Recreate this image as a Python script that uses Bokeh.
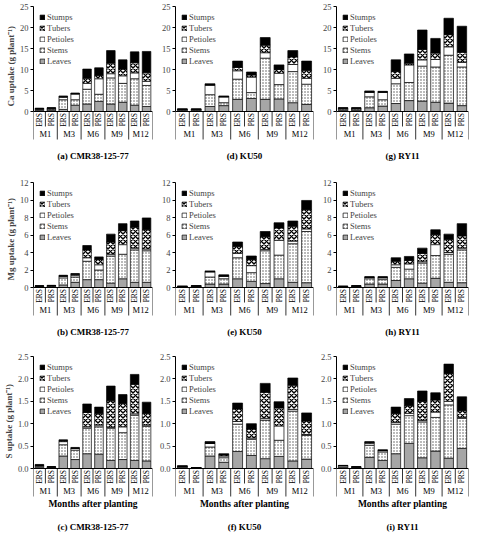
from math import pi
from bokeh.plotting import figure
from bokeh.models import (FactorRange, Legend, LegendItem, Range1d, FixedTicker,
                          NumeralTickFormatter, ColumnDataSource, Span, Title)
from bokeh.core.properties import value
from bokeh.layouts import gridplot
from bokeh.embed import file_html
from bokeh.resources import INLINE

months = ["M1", "M3", "M6", "M9", "M12"]
treatments = ["ERS", "PRS"]
parts = ["Leaves", "Stems", "Petioles", "Tubers", "Stumps"]

ca_ticks = [0, 5, 10, 15, 20, 25]
mg_ticks = [0, 2, 4, 6, 8, 10, 12]
s_ticks = [0.0, 0.5, 1.0, 1.5, 2.0, 2.5]

# (a) Ca CMR38-125-77
a_leaves   = [0.3, 0.35, 0.5, 1.5, 1.8, 2.4, 1.8, 2.2, 1.5, 1.2]
a_stems    = [0.2, 0.25, 2.3, 1.3, 3.5, 1.7, 6.2, 4.5, 6.3, 5.0]
a_petioles = [0.15, 0.2, 0.6, 1.4, 1.4, 3.7, 1.0, 1.8, 1.4, 1.0]
a_tubers   = [0, 0, 0.1, 0, 1.2, 0.8, 2.5, 1.6, 2.4, 2.0]
a_stumps   = [0.15, 0.1, 0.2, 0.2, 2.2, 1.8, 3.0, 2.2, 2.6, 5.1]
# (d) Ca KU50
d_leaves   = [0.2, 0.2, 1.2, 1.4, 2.9, 3.1, 2.9, 3.0, 2.1, 1.7]
d_stems    = [0.2, 0.2, 2.8, 0.7, 4.8, 1.4, 9.8, 3.4, 7.4, 4.8]
d_petioles = [0.15, 0.15, 2.3, 1.4, 2.0, 3.7, 1.3, 2.7, 1.7, 1.4]
d_tubers   = [0, 0, 0, 0, 0.8, 0.5, 1.8, 0.9, 1.8, 1.9]
d_stumps   = [0.05, 0.05, 0.3, 0.2, 1.5, 0.7, 1.8, 1.1, 1.5, 2.2]
# (g) Ca RY11
g_leaves   = [0.3, 0.3, 0.9, 1.3, 1.9, 2.6, 2.5, 2.2, 2.0, 1.4]
g_stems    = [0.3, 0.3, 2.6, 1.5, 4.7, 4.3, 8.3, 8.4, 11.4, 9.2]
g_petioles = [0.2, 0.2, 1.1, 1.8, 1.3, 4.2, 1.5, 1.8, 2.0, 1.1]
g_tubers   = [0, 0, 0, 0, 1.6, 0.4, 2.5, 1.5, 2.9, 2.4]
g_stumps   = [0.1, 0.1, 0.3, 0.2, 2.8, 2.2, 4.6, 3.5, 3.9, 6.2]
# (b) Mg CMR38-125-77
b_leaves   = [0.08, 0.1, 0.3, 0.6, 0.9, 0.9, 0.5, 1.0, 0.6, 0.6]
b_stems    = [0.06, 0.08, 0.8, 0.6, 2.1, 1.1, 3.1, 2.8, 3.7, 3.6]
b_petioles = [0.03, 0.04, 0.2, 0.2, 0.4, 0.6, 0.2, 1.1, 0.2, 0.2]
b_tubers   = [0, 0, 0, 0.1, 0.9, 0.6, 1.4, 1.6, 2.4, 2.2]
b_stumps   = [0.03, 0.03, 0.1, 0.1, 0.5, 0.3, 0.9, 0.8, 0.7, 1.35]
# (e) Mg KU50
e_leaves   = [0.06, 0.08, 0.4, 0.4, 1.0, 0.7, 0.45, 1.0, 0.6, 0.55]
e_stems    = [0.04, 0.06, 0.8, 0.6, 2.4, 1.0, 3.75, 2.7, 4.4, 5.85]
e_petioles = [0.03, 0.04, 0.6, 0.3, 0.5, 0.8, 0.15, 1.7, 0.3, 0.3]
e_tubers   = [0, 0, 0, 0, 0.8, 0.7, 1.45, 1.4, 1.7, 2.2]
e_stumps   = [0.02, 0.02, 0.1, 0.15, 0.5, 0.4, 0.6, 0.6, 0.6, 1.05]
# (h) Mg RY11
h_leaves   = [0.06, 0.08, 0.4, 0.4, 0.8, 1.0, 0.5, 1.05, 0.6, 0.55]
h_stems    = [0.04, 0.06, 0.6, 0.5, 1.5, 1.1, 2.3, 2.6, 3.2, 3.75]
h_petioles = [0.03, 0.04, 0.15, 0.2, 0.3, 0.6, 0.15, 1.25, 0.2, 0.2]
h_tubers   = [0, 0, 0, 0.05, 0.4, 0.4, 0.95, 1.15, 1.5, 1.4]
h_stumps   = [0.02, 0.02, 0.1, 0.1, 0.4, 0.45, 0.6, 0.55, 0.6, 1.4]
# (c) S CMR38-125-77
c_leaves   = [0.03, 0.015, 0.28, 0.2, 0.33, 0.32, 0.18, 0.2, 0.18, 0.17]
c_stems    = [0.02, 0.01, 0.25, 0.21, 0.57, 0.61, 0.72, 0.6, 1.01, 0.77]
c_petioles = [0.02, 0.01, 0.07, 0.04, 0.03, 0.04, 0.02, 0.13, 0.03, 0.03]
c_tubers   = [0, 0, 0.02, 0, 0.32, 0.25, 0.59, 0.52, 0.66, 0.26]
c_stumps   = [0.02, 0.005, 0.02, 0.02, 0.19, 0.15, 0.33, 0.2, 0.22, 0.25]
# (f) S KU50
f_leaves   = [0.02, 0.01, 0.28, 0.14, 0.38, 0.29, 0.22, 0.27, 0.17, 0.21]
f_stems    = [0.02, 0.005, 0.2, 0.1, 0.61, 0.36, 0.86, 0.36, 1.11, 0.53]
f_petioles = [0.01, 0.003, 0.08, 0.04, 0.06, 0.03, 0.04, 0.32, 0.04, 0.02]
f_tubers   = [0, 0, 0, 0.02, 0.28, 0.2, 0.58, 0.4, 0.54, 0.3]
f_stumps   = [0.01, 0.002, 0.04, 0.03, 0.13, 0.12, 0.2, 0.14, 0.16, 0.18]
# (i) S RY11
i_leaves   = [0.01, 0.015, 0.25, 0.18, 0.33, 0.56, 0.24, 0.39, 0.23, 0.45]
i_stems    = [0.01, 0.01, 0.27, 0.19, 0.66, 0.62, 0.8, 0.75, 1.19, 0.67]
i_petioles = [0.04, 0.01, 0.04, 0.03, 0.04, 0.05, 0.03, 0.12, 0.08, 0.02]
i_tubers   = [0, 0, 0.02, 0, 0.2, 0.17, 0.43, 0.27, 0.62, 0.15]
i_stumps   = [0.01, 0.005, 0.02, 0.02, 0.14, 0.16, 0.23, 0.16, 0.21, 0.31]

FONT = "Liberation Serif"
factors = [(m, t) for m in months for t in treatments]

fill_colors = ["#a6a6a6", "white", "white", "white", "black"]
hatch_patterns = [" ", "dot", " ", "diagonal_cross", " "]
hatch_colors = ["black", "#555555", "black", "black", "black"]
hatch_scales = [6, 3.0, 6, 5.0, 6]
hatch_weights = [1, 0.8, 1, 1.4, 1]

TOP = 6  # px above the top tick


def panel(series, ticks, ymax, fmt, caption, ylabel, xlabel, width, height, plot_px,
          ylabel_gap=6):
    # plot_px: pixels between zero line and top tick; everything below zero is
    # laid out in pixels and converted to data units
    frame_px = height - TOP
    u = ymax / plot_px                      # data units per pixel
    ymin = -(frame_px - plot_px) * u
    sub_h = 15 * u
    box_h = 28 * u
    src = ColumnDataSource(dict(x=factors, **{k: v for k, v in zip(parts, series)}))
    xr = FactorRange(*factors, factor_padding=0, group_padding=0, range_padding=0)
    p = figure(x_range=xr, y_range=Range1d(ymin, ymax), width=width, height=height,
               output_backend="svg", toolbar_location=None, tools="",
               min_border_top=TOP, min_border_right=4, min_border_left=0,
               min_border_bottom=0)
    rs = p.vbar_stack(parts, x="x", width=0.72, source=src,
                      fill_color=fill_colors, line_color="black", line_width=0.7,
                      hatch_pattern=hatch_patterns, hatch_color=hatch_colors,
                      hatch_scale=hatch_scales, hatch_weight=hatch_weights)
    items = [LegendItem(label=n, renderers=[r]) for n, r in zip(parts, rs)][::-1]
    leg = Legend(items=items, location="top_left", label_text_font=FONT,
                 label_text_font_size="8.5px", glyph_width=6, glyph_height=6,
                 label_height=7, label_standoff=2, spacing=1, padding=2, margin=6,
                 background_fill_alpha=0, border_line_color=None)
    p.add_layout(leg)

    # category table below the zero line
    p.add_layout(Span(location=0, dimension="width", line_color="black", line_width=1))
    sub_x = [(m, "ERS", 0.5) for m in months]
    p.segment(x0=sub_x, x1=sub_x, y0=[0] * len(sub_x), y1=[-sub_h] * len(sub_x),
              line_color="black", line_width=0.8)
    grp_x = [(m, "ERS", -0.5) for m in months] + [(months[-1], "PRS", 0.5)]
    p.segment(x0=grp_x, x1=grp_x, y0=[0] * len(grp_x), y1=[-box_h] * len(grp_x),
              line_color="black", line_width=0.8)
    p.text(x=factors, y=[-1.5 * u] * len(factors), text=[f[1] for f in factors],
           angle=pi / 2, text_align="right", text_baseline="middle",
           text_font=value(FONT), text_font_size=value("7.5px"), text_color="black")
    p.text(x=months, y=[-22 * u] * len(months), text=months,
           text_align="center", text_baseline="middle",
           text_font=value(FONT), text_font_size=value("8.5px"), text_color="black")
    cap_px = 44
    if xlabel:
        p.text(x=[months[2]], y=[-35 * u], text=[xlabel],
               text_align="center", text_baseline="middle",
               text_font=value(FONT), text_font_size=value("9.5px"),
               text_font_style="bold", text_color="black")
        cap_px = 58
    p.text(x=[months[2]], y=[-cap_px * u], text=[caption],
           text_align="center", text_baseline="middle",
           text_font=value(FONT), text_font_size=value("9px"),
           text_font_style="bold", text_color="black")

    p.xaxis.visible = False
    p.xgrid.grid_line_color = None
    p.ygrid.grid_line_color = None
    p.outline_line_color = None
    ya = p.yaxis[0]
    ya.bounds = (0, ymax)
    ya.ticker = FixedTicker(ticks=ticks)
    ya.formatter = NumeralTickFormatter(format=fmt)
    ya.major_label_text_font = FONT
    ya.major_label_text_font_size = "8.5px"
    ya.major_tick_out = 3
    ya.major_tick_in = 0
    ya.minor_tick_line_color = None
    ya.axis_line_color = "black"
    ya.major_label_standoff = 2
    if ylabel:
        # axis title placed beside the 0..ymax part of the axis
        p.add_layout(Title(text=ylabel, align="left",
                           offset=(frame_px - plot_px) + ylabel_gap,
                           text_font=FONT, text_font_size="9px",
                           text_font_style="bold", standoff=2), "left")
    return p


W = [156, 161, 155]
H = [176, 174, 184]
PX = [105, 105, 112]

pa = panel([a_leaves, a_stems, a_petioles, a_tubers, a_stumps], ca_ticks, 25, "0",
           "(a) CMR38-125-77", "Ca uptake (g plant\u207b\u00b9)", None, W[0], H[0], PX[0], 5)
pd_ = panel([d_leaves, d_stems, d_petioles, d_tubers, d_stumps], ca_ticks, 25, "0",
            "(d) KU50", None, None, W[1], H[0], PX[0])
pg = panel([g_leaves, g_stems, g_petioles, g_tubers, g_stumps], ca_ticks, 25, "0",
           "(g) RY11", None, None, W[2], H[0], PX[0])
pb = panel([b_leaves, b_stems, b_petioles, b_tubers, b_stumps], mg_ticks, 12, "0",
           "(b) CMR38-125-77", "Mg uptake (g plant\u207b\u00b9)", None, W[0], H[1], PX[1], 7)
pe = panel([e_leaves, e_stems, e_petioles, e_tubers, e_stumps], mg_ticks, 12, "0",
           "(e) KU50", None, None, W[1], H[1], PX[1])
ph = panel([h_leaves, h_stems, h_petioles, h_tubers, h_stumps], mg_ticks, 12, "0",
           "(h) RY11", None, None, W[2], H[1], PX[1])
pc = panel([c_leaves, c_stems, c_petioles, c_tubers, c_stumps], s_ticks, 2.5, "0.0",
           "(c) CMR38-125-77", "S uptake (g plant\u207b\u00b9)", "Months after planting",
           W[0], H[2], PX[2], 10)
pf = panel([f_leaves, f_stems, f_petioles, f_tubers, f_stumps], s_ticks, 2.5, "0.0",
           "(f) KU50", None, "Months after planting", W[1], H[2], PX[2])
pi_ = panel([i_leaves, i_stems, i_petioles, i_tubers, i_stumps], s_ticks, 2.5, "0.0",
            "(i) RY11", None, "Months after planting", W[2], H[2], PX[2])

grid = gridplot([[pa, pd_, pg], [pb, pe, ph], [pc, pf, pi_]], toolbar_location=None)

open("out.html", "w").write(file_html(grid, INLINE))
